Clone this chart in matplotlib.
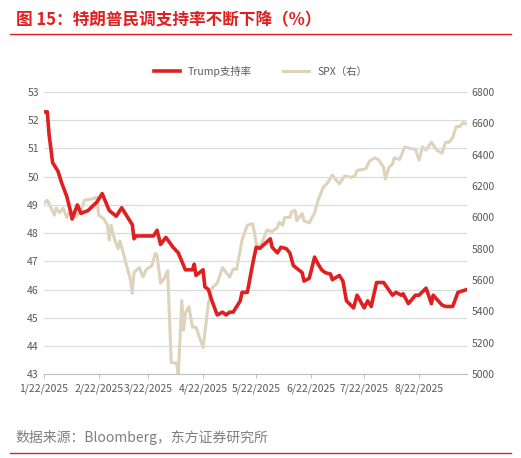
import matplotlib.pyplot as plt
import numpy as np
import datetime as dt

plt.rcParams['font.family'] = ['Noto Sans CJK SC', 'DejaVu Sans']

start = dt.date(2025, 1, 22)

trump_days = [0, 1, 2, 3, 5, 8, 10, 13, 15, 16, 19, 21, 25, 30, 33, 37, 41, 44, 47, 50, 51, 52,
              62, 64, 66, 69, 73, 76, 78, 80, 84, 85, 86, 90, 91, 93, 95, 98, 101, 103, 105, 107,
              111, 112, 115, 118, 120, 122, 128, 129, 132, 134, 137, 139, 141, 146, 147, 150, 153,
              155, 157, 159, 162, 163, 167, 169, 171, 175, 177, 181, 183, 185, 188, 192, 197, 199,
              202, 203, 206, 210, 212, 216, 219, 220, 225, 227, 231, 234, 239]
trump_vals = [52.3, 52.3, 52.3, 51.5, 50.5, 50.2, 49.8, 49.3, 48.8, 48.5, 49.0, 48.7, 48.8, 49.1,
              49.4, 48.8, 48.6, 48.9, 48.6, 48.3, 47.8, 47.9, 47.9, 48.1, 47.6, 47.85, 47.5, 47.3,
              47.0, 46.7, 46.7, 46.9, 46.5, 46.7, 46.1, 46.0, 45.6, 45.1, 45.2, 45.1, 45.2, 45.2,
              45.6, 45.9, 45.9, 46.9, 47.5, 47.46, 47.8, 47.5, 47.3, 47.5, 47.45, 47.3, 46.85,
              46.6, 46.3, 46.4, 47.15, 46.9, 46.7, 46.6, 46.55, 46.35, 46.5, 46.3, 45.6, 45.35,
              45.8, 45.35, 45.6, 45.4, 46.25, 46.25, 45.8, 45.9, 45.8, 45.85, 45.5, 45.8, 45.8,
              46.05, 45.5, 45.8, 45.45, 45.4, 45.4, 45.9, 46.0]

spx_days = [0, 2, 5, 6, 7, 9, 11, 13, 15, 18, 21, 23, 28, 30, 31, 34, 36, 37, 38, 40, 42, 43, 45,
            49, 50, 51, 54, 56, 58, 61, 63, 64, 66, 68, 70, 72, 75, 76, 78, 79, 80, 82, 84, 86, 90,
            93, 95, 98, 101, 105, 107, 109, 112, 115, 118, 119, 120, 122, 126, 129, 132, 133, 135,
            136, 139, 140, 142, 143, 146, 147, 150, 153, 155, 158, 160, 163, 167, 170, 174, 176,
            177, 182, 184, 187, 189, 192, 193, 195, 197, 198, 201, 204, 207, 210, 212, 214, 216,
            219, 222, 225, 227, 229, 231, 233, 235, 237, 239]
spx_vals = [6090, 6110, 6040, 6015, 6060, 6030, 6060, 6000, 6050, 6000, 6045, 6110, 6120, 6130,
            6015, 5990, 5950, 5855, 5950, 5860, 5800, 5850, 5770, 5600, 5515, 5650, 5680, 5620,
            5670, 5690, 5770, 5760, 5580, 5610, 5660, 5075, 5070, 5000, 5470, 5280, 5390, 5430,
            5300, 5300, 5170, 5450, 5550, 5580, 5680, 5620, 5670, 5670, 5855, 5950, 5960, 5905,
            5835, 5800, 5920, 5910, 5935, 5970, 5950, 6000, 6000, 6035, 6045, 5980, 6025, 5980,
            5965, 6030, 6110, 6195, 6215, 6270, 6215, 6265, 6255, 6270, 6300, 6310, 6360, 6380,
            6370, 6320, 6245, 6320, 6340, 6380, 6370, 6450, 6440, 6435, 6365, 6450, 6430, 6480,
            6430, 6410, 6480, 6480, 6510, 6580, 6580, 6605, 6595]

tick_dates = [dt.date(2025, m, 22) for m in range(1, 9)]
tick_labels = [f"{m}/22/2025" for m in range(1, 9)]

trump_x = [start + dt.timedelta(days=d) for d in trump_days]
spx_x = [start + dt.timedelta(days=d) for d in spx_days]

fig = plt.figure(figsize=(5.21, 4.58), dpi=100)
ax = fig.add_axes([0.084, 0.183, 0.812, 0.616])
ax2 = ax.twinx()

grey = '#595959'
l2, = ax2.plot(spx_x, spx_vals, color='#DDD3BB', lw=2.2, label='SPX（右）')
l1, = ax.plot(trump_x, trump_vals, color='#E02020', lw=2.6, label='Trump支持率')
ax.set_zorder(ax2.get_zorder() + 1)
ax.patch.set_visible(False)

ax.set_ylim(43, 53)
ax.set_yticks(range(43, 54))
ax2.set_ylim(5000, 6800)
ax2.set_yticks(range(5000, 6801, 200))
ax.set_xlim(start, start + dt.timedelta(days=239))
ax.set_xticks(tick_dates)
ax.set_xticklabels(tick_labels)
ax.grid(axis='y', color='#D9D9D9', lw=0.8)
ax.set_axisbelow(True)

for a in (ax, ax2):
    for s in ('top', 'right', 'left'):
        a.spines[s].set_visible(False)
    a.tick_params(labelsize=7.5, colors=grey, length=0)
ax2.spines['bottom'].set_visible(False)
ax.spines['bottom'].set_color('#BFBFBF')
ax.tick_params(axis='x', length=3, color='#BFBFBF')

fig.legend(handles=[l1, l2], loc='center', bbox_to_anchor=(0.5, 0.845), ncol=2,
           frameon=False, fontsize=7.5, labelcolor=grey, handlelength=2.5, columnspacing=3)

fig.text(0.03, 0.955, '图 15：特朗普民调支持率不断下降（%）', color='#E02020',
         fontsize=12, fontweight='bold', va='center')
fig.add_artist(plt.Line2D([0.02, 0.98], [0.925, 0.925], color='#E02020', lw=1))
fig.text(0.03, 0.045, '数据来源：Bloomberg，东方证券研究所', color='#7F7F7F',
         fontsize=10, va='center')
fig.add_artist(plt.Line2D([0.02, 0.98], [0.012, 0.012], color='#E02020', lw=1))

fig.savefig('out.png', dpi=100)
